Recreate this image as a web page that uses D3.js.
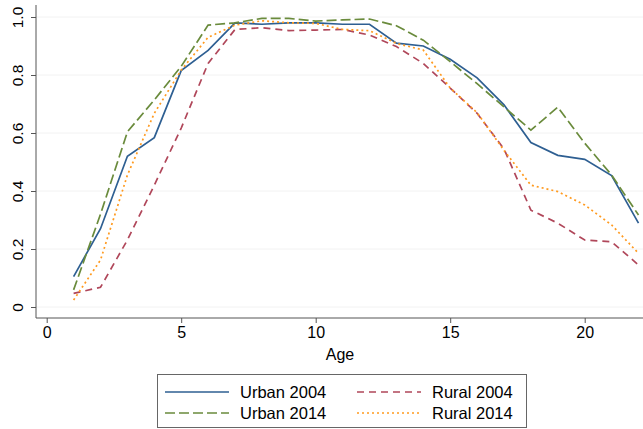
<!DOCTYPE html>
<html>
<head>
<meta charset="utf-8">
<script src="https://cdn.jsdelivr.net/npm/d3@7"></script>
<style>
  body { margin: 0; background: #fff; }
  svg { display: block; font-family: "Liberation Sans", Arial, sans-serif; }
</style>
</head>
<body>
<div id="chart"></div>
<script>
// Daten
const ages = [1, 2, 3, 4, 5, 6, 7, 8, 9, 10, 11, 12, 13, 14, 15, 16, 17, 18, 19, 20, 21, 22];
const urban2004 = [0.105, 0.27, 0.52, 0.584, 0.815, 0.885, 0.98, 0.975, 0.98, 0.98, 0.975, 0.975, 0.91, 0.90, 0.854, 0.79, 0.697, 0.567, 0.523, 0.509, 0.453, 0.289];
const rural2004 = [0.047, 0.068, 0.231, 0.42, 0.617, 0.84, 0.957, 0.963, 0.953, 0.955, 0.957, 0.938, 0.898, 0.84, 0.755, 0.668, 0.545, 0.334, 0.289, 0.231, 0.225, 0.145];
const urban2014 = [0.059, 0.32, 0.604, 0.714, 0.83, 0.972, 0.98, 0.995, 0.995, 0.986, 0.99, 0.993, 0.97, 0.92, 0.846, 0.77, 0.69, 0.61, 0.689, 0.565, 0.455, 0.317];
const rural2014 = [0.024, 0.162, 0.455, 0.668, 0.817, 0.93, 0.972, 0.987, 0.98, 0.978, 0.957, 0.953, 0.909, 0.886, 0.755, 0.67, 0.54, 0.42, 0.398, 0.352, 0.283, 0.185];
const xTicks = [0, 5, 10, 15, 20];
const yTicks = [0, 0.2, 0.4, 0.6, 0.8, 1.0];

const series = [
  {name: "Urban 2004", values: urban2004, color: "#2e5f92", dash: null},
  {name: "Rural 2004", values: rural2004, color: "#b0475a", dash: "7,5"},
  {name: "Urban 2014", values: urban2014, color: "#6a8b3c", dash: "10,4"},
  {name: "Rural 2014", values: rural2014, color: "#ff9a1f", dash: "2,3"}
];

// Layout
const width = 643, height = 429;
const axisLeftX = 36, axisBottomY = 318;

const svg = d3.select("#chart").append("svg")
  .attr("width", width)
  .attr("height", height);

const xScale = d3.scaleLinear().domain([0, 22]).range([46.7, 638.5]);
const yScale = d3.scaleLinear().domain([0, 1]).range([307, 17]);

// Rasterlinien
svg.selectAll(".grid")
  .data(yTicks)
  .enter()
  .append("line")
  .attr("class", "grid")
  .attr("x1", axisLeftX)
  .attr("x2", width)
  .attr("y1", d => yScale(d))
  .attr("y2", d => yScale(d))
  .attr("stroke", "#f2f2f2")
  .attr("stroke-width", 1);

// Achsen
const yAxis = svg.append("g")
  .attr("transform", `translate(${axisLeftX},0)`)
  .call(d3.axisLeft(yScale).tickValues(yTicks).tickSize(5).tickSizeOuter(0)
    .tickFormat(d => d === 0 ? "0" : d3.format(".1f")(d)));
yAxis.select(".domain").attr("d", `M0,5V${axisBottomY}`);
yAxis.selectAll("text")
  .attr("x", null).attr("dy", null)
  .attr("transform", "translate(-13.5,0) rotate(-90)")
  .attr("text-anchor", "middle")
  .style("font-size", "15.5px")
  .attr("fill", "#000");

const xAxis = svg.append("g")
  .attr("transform", `translate(0,${axisBottomY})`)
  .call(d3.axisBottom(xScale).tickValues(xTicks).tickSize(5).tickSizeOuter(0));
xAxis.select(".domain").attr("d", `M${axisLeftX},0H${width}`);
xAxis.selectAll("text")
  .attr("y", 9)
  .style("font-size", "16px")
  .attr("fill", "#000");

svg.selectAll(".domain, .tick line").attr("stroke", "#555");

svg.append("text")
  .attr("x", 340)
  .attr("y", 360)
  .attr("text-anchor", "middle")
  .style("font-size", "16px")
  .text("Age");

// Linien
const line = d3.line()
  .x((d, i) => xScale(ages[i]))
  .y(d => yScale(d));

svg.selectAll(".series")
  .data(series)
  .enter()
  .append("path")
  .attr("class", "series")
  .attr("d", d => line(d.values))
  .attr("fill", "none")
  .attr("stroke", d => d.color)
  .attr("stroke-width", 1.7)
  .attr("stroke-dasharray", d => d.dash);

// Legende
const legend = svg.append("g");
legend.append("rect")
  .attr("x", 157.5)
  .attr("y", 374.5)
  .attr("width", 369)
  .attr("height", 53)
  .attr("fill", "#fff")
  .attr("stroke", "#666");

const legendPos = [
  {x: 165, y: 392}, {x: 357, y: 392},
  {x: 165, y: 413}, {x: 357, y: 413}
];

series.forEach((s, i) => {
  const p = legendPos[i];
  legend.append("line")
    .attr("x1", p.x).attr("x2", p.x + 64)
    .attr("y1", p.y).attr("y2", p.y)
    .attr("stroke", s.color)
    .attr("stroke-width", 1.5)
    .attr("stroke-dasharray", s.dash);
  legend.append("text")
    .attr("x", p.x + 75)
    .attr("y", p.y + 6)
    .style("font-size", "16.5px")
    .text(s.name);
});
</script>
</body>
</html>
